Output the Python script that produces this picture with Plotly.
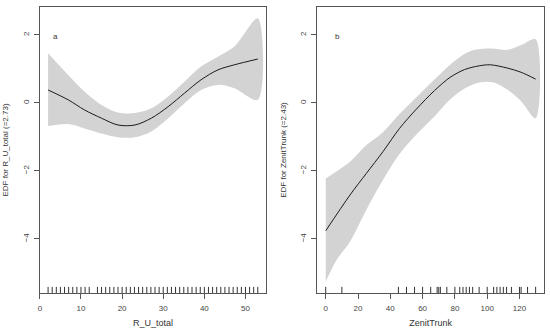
import plotly.graph_objects as go

# ---- Panel a: R_U_total ----
a_x = [2, 6.9, 10.9, 15, 19, 23.1, 27.1, 31.2, 35.2, 39.2, 43.3, 47.3, 53]
a_fit = [0.38, 0.09, -0.21, -0.45, -0.65, -0.65, -0.45, -0.11, 0.29, 0.68, 0.97, 1.12, 1.29]
a_up = [1.46, 0.82, 0.33, -0.06, -0.28, -0.30, -0.16, 0.19, 0.63, 1.07, 1.36, 1.66, 2.49]
a_lo = [-0.68, -0.62, -0.75, -0.90, -1.01, -1.01, -0.84, -0.45, -0.01, 0.38, 0.53, 0.43, 0.09]
a_rug = [2, 3, 4, 5, 6, 7, 8, 9, 10, 11, 12] + list(range(14, 54))

# ---- Panel b: ZenitTrunk ----
b_x = [0, 15, 25.2, 35.5, 45.7, 56, 67.3, 77, 86, 95, 102, 112.8, 121, 130]
b_fit = [-3.76, -2.71, -2.07, -1.43, -0.75, -0.19, 0.36, 0.75, 0.98, 1.09, 1.12, 1.02, 0.90, 0.70]
b_up_x = [0, 15, 25.2, 35.5, 45.7, 56, 67.3, 76, 84, 92.3, 102.6, 112.8, 121, 130]
b_up = [-2.22, -1.73, -1.24, -0.86, -0.33, 0.16, 0.69, 1.08, 1.38, 1.56, 1.60, 1.56, 1.70, 1.87]
b_lo_x = [0, 6.7, 15, 25.2, 35.5, 45.7, 56, 67.3, 77, 86, 95, 104, 112.8, 121, 130]
b_lo = [-5.26, -4.62, -4.08, -3.14, -2.26, -1.50, -0.94, -0.40, 0.10, 0.42, 0.60, 0.60, 0.38, 0.05, -0.45]
b_rug = [0, 10, 45, 50, 55, 60, 65, 69, 70, 71, 75, 80, 83, 85, 87, 89, 91, 95, 100,
         104, 106, 108, 110, 112, 115, 120, 121, 125, 130]

a_ticks = [0, 10, 20, 30, 40, 50]
b_ticks = [0, 20, 40, 60, 80, 100, 120]
y_ticks = [-4, -2, 0, 2]

Y_RANGE = [-5.59, 2.82]
RUG_H = 0.18
BAND = "#d3d3d3"
FONT = "Liberation Sans"

fig = go.Figure()


def add_panel(xs, fit, upx, up, lox, lo, rug, xa, ya):
    fig.add_trace(go.Scatter(x=list(upx) + list(lox)[::-1], y=list(up) + list(lo)[::-1],
                             fill="toself", fillcolor=BAND, mode="lines",
                             line=dict(width=0, color=BAND, shape="spline", smoothing=0.9),
                             hoverinfo="skip", showlegend=False, xaxis=xa, yaxis=ya))
    fig.add_trace(go.Scatter(x=xs, y=fit, mode="lines",
                             line=dict(color="#1a1a1a", width=1, shape="spline", smoothing=0.9),
                             showlegend=False, xaxis=xa, yaxis=ya))
    rx, ry = [], []
    for r in rug:
        rx += [r, r, None]
        ry += [Y_RANGE[0], Y_RANGE[0] + RUG_H, None]
    fig.add_trace(go.Scatter(x=rx, y=ry, mode="lines", line=dict(color="#333", width=1),
                             showlegend=False, hoverinfo="skip", xaxis=xa, yaxis=ya))


add_panel(a_x, a_fit, a_x, a_up, a_x, a_lo, a_rug, "x", "y")
add_panel(b_x, b_fit, b_up_x, b_up, b_lo_x, b_lo, b_rug, "x2", "y2")

axis_common = dict(showline=True, mirror=True, linecolor="#555", linewidth=1,
                   ticks="outside", ticklen=5, tickcolor="#555", showgrid=False,
                   zeroline=False, tickfont=dict(family=FONT, size=8, color="#444"))
xcommon = dict(ticklabelstandoff=2, **axis_common)
ycommon = dict(ticklabelstandoff=2, **axis_common)

fig.update_layout(
    width=550, height=331, margin=dict(l=0, r=0, t=0, b=0),
    paper_bgcolor="white", plot_bgcolor="white",
    font=dict(family=FONT, size=9, color="#333"),
    xaxis=dict(domain=[38 / 550, 265 / 550], range=[0, 55], tickvals=a_ticks,
               title=dict(text="R_U_total", font=dict(size=9), standoff=8), **xcommon),
    yaxis=dict(domain=[38 / 331, 324 / 331], range=Y_RANGE, tickvals=y_ticks, tickangle=-90,
               title=dict(text="EDF for R_U_total (=2.73)", font=dict(size=8), standoff=11),
               **ycommon),
    xaxis2=dict(domain=[316.5 / 550, 544 / 550], range=[-5.2, 135.2], tickvals=b_ticks,
                anchor="y2",
                title=dict(text="ZenitTrunk", font=dict(size=9), standoff=8), **xcommon),
    yaxis2=dict(domain=[38 / 331, 324 / 331], range=Y_RANGE, tickvals=y_ticks, tickangle=-90,
                anchor="x2",
                title=dict(text="EDF for ZenitTrunk (=2.43)", font=dict(size=8), standoff=11),
                **ycommon),
    annotations=[
        dict(text="a", x=0.05, y=0.92, xref="x domain", yref="y domain", showarrow=False,
             font=dict(family=FONT, size=8, color="#333")),
        dict(text="b", x=0.07, y=0.92, xref="x2 domain", yref="y2 domain", showarrow=False,
             font=dict(family=FONT, size=8, color="#333")),
    ],
)

fig.write_html("out.html", config={"displayModeBar": False},
               post_script="document.body.style.margin='0px';document.body.style.overflow='hidden';")
